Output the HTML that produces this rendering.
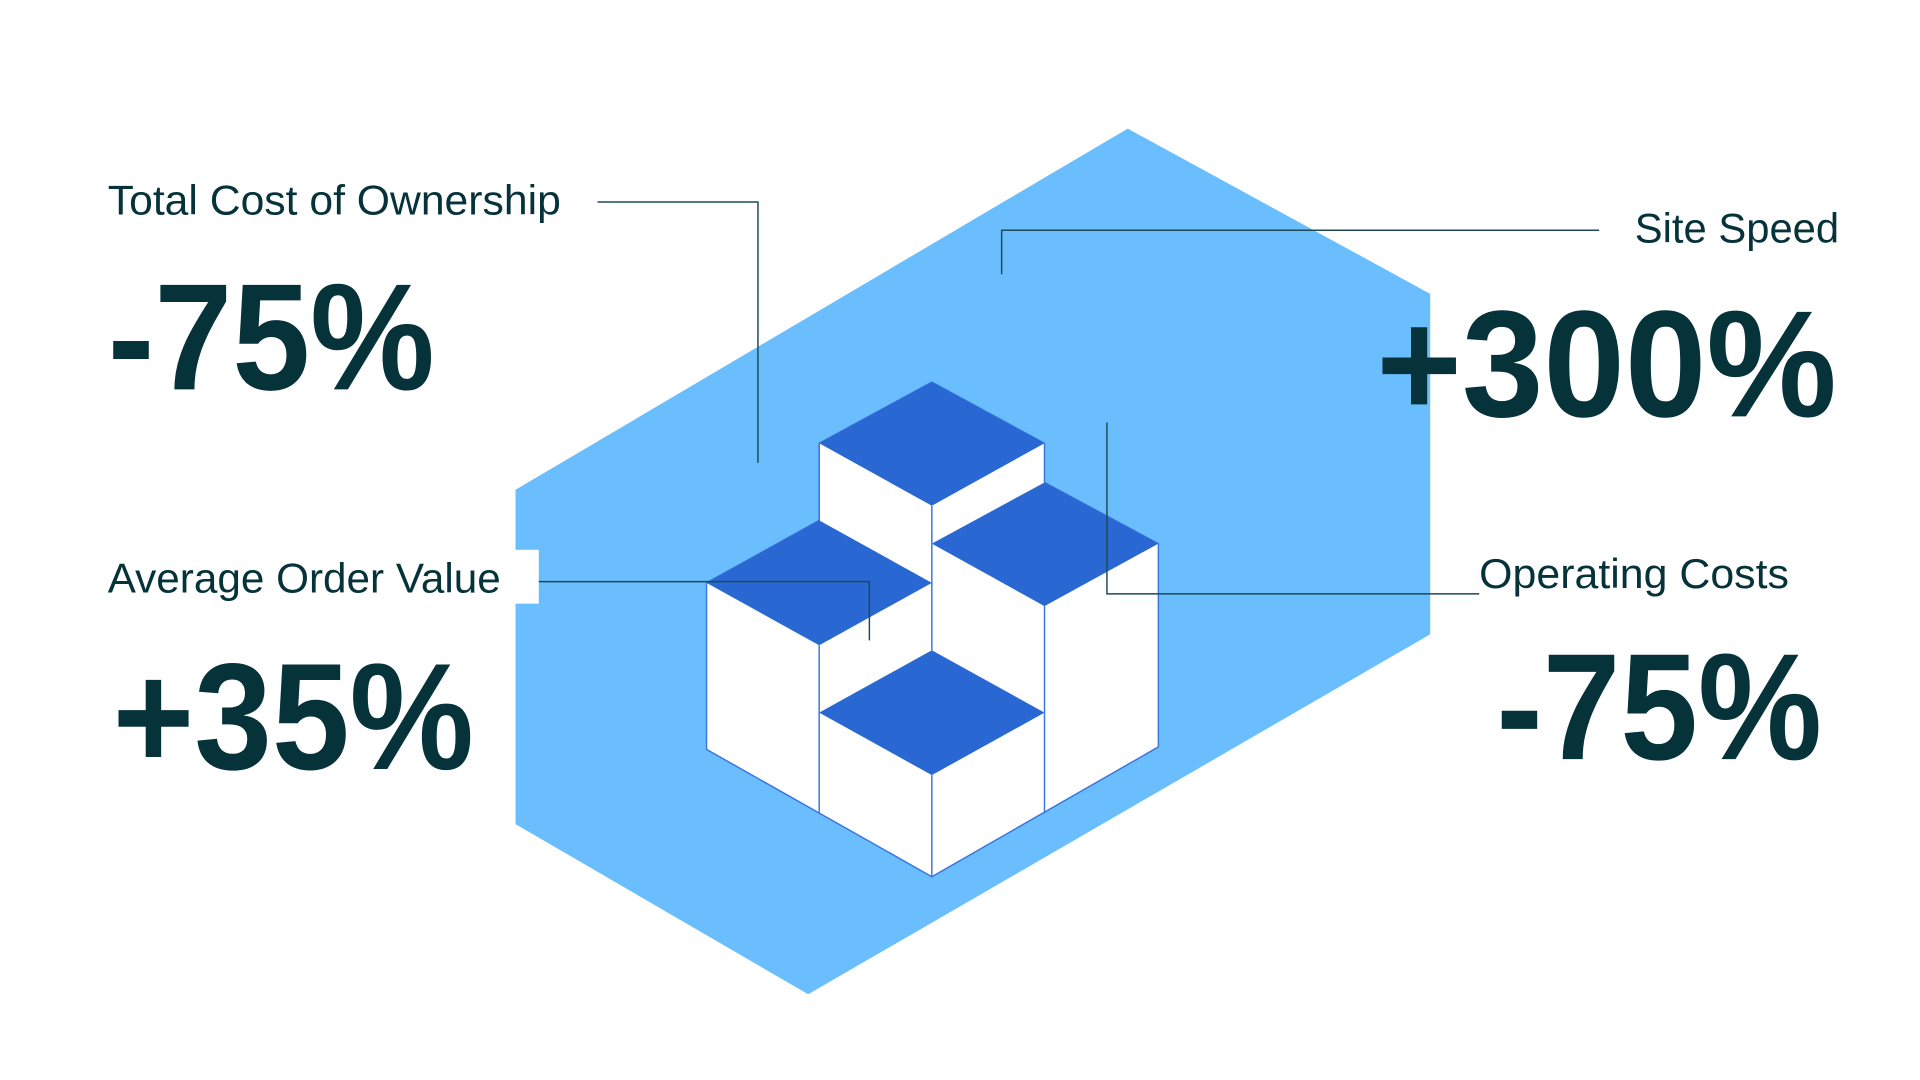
<!DOCTYPE html>
<html><head><meta charset="utf-8"><style>html,body{margin:0;padding:0;background:#fff}svg{display:block}</style></head>
<body>
<svg width="1920" height="1080" viewBox="0 0 1568 882" preserveAspectRatio="none" xmlns="http://www.w3.org/2000/svg">
<rect width="1568" height="882" fill="#fff"/>
<polygon points="921,105 1168,240 1168,518 660,812 421,673 421,400" fill="#6bbefd"/>
<rect x="421" y="449" width="19" height="44" fill="#fff"/>
<polygon points="669,362 761,312 853,362 853,394 946,444 946,610 761,716 577,612 577,476 669,425" fill="#fff" stroke="#3a75e0" stroke-width="1.2"/>
<g fill="#2968d2">
<polygon points="761,312 853,362 761,413 669,362"/>
<polygon points="669,425 761,476 669,527 577,476"/>
<polygon points="853,394 946,444 853,495 761,444"/>
<polygon points="761,531 853,582 761,633 669,582"/>
</g>
<g stroke="#3a75e0" stroke-width="1.2" fill="none">
<line x1="669" y1="527" x2="669" y2="664"/>
<line x1="761" y1="413" x2="761" y2="531"/>
<line x1="761" y1="633" x2="761" y2="716"/>
<line x1="853" y1="495" x2="853" y2="664"/>
<line x1="669" y1="362" x2="669" y2="425"/>
</g>
<g stroke="#1d4a55" stroke-width="1.2" fill="none">
<polyline points="488,165 619,165 619,378"/>
<polyline points="1306,188 818,188 818,224"/>
<polyline points="1208,485 904,485 904,345"/>
<polyline points="440,475 710,475 710,523"/>
</g>
<g fill="#06323a" font-family="Liberation Sans, sans-serif">
<text x="88" y="175" font-size="34" textLength="370" lengthAdjust="spacingAndGlyphs">Total Cost of Ownership</text>
<text x="88" y="484" font-size="34" textLength="321" lengthAdjust="spacingAndGlyphs">Average Order Value</text>
<text x="1335" y="198" font-size="34" textLength="167" lengthAdjust="spacingAndGlyphs">Site Speed</text>
<text x="1208" y="480" font-size="34" textLength="253" lengthAdjust="spacingAndGlyphs">Operating Costs</text>
<text x="88" y="318" font-size="124" font-weight="bold" textLength="267" lengthAdjust="spacingAndGlyphs">-75%</text>
<text x="92" y="628" font-size="124" font-weight="bold" textLength="295" lengthAdjust="spacingAndGlyphs">+35%</text>
<text x="1124" y="340" font-size="124" font-weight="bold" textLength="376" lengthAdjust="spacingAndGlyphs">+300%</text>
<text x="1222" y="620" font-size="124" font-weight="bold" textLength="266" lengthAdjust="spacingAndGlyphs">-75%</text>
</g>
</svg>
</body></html>
